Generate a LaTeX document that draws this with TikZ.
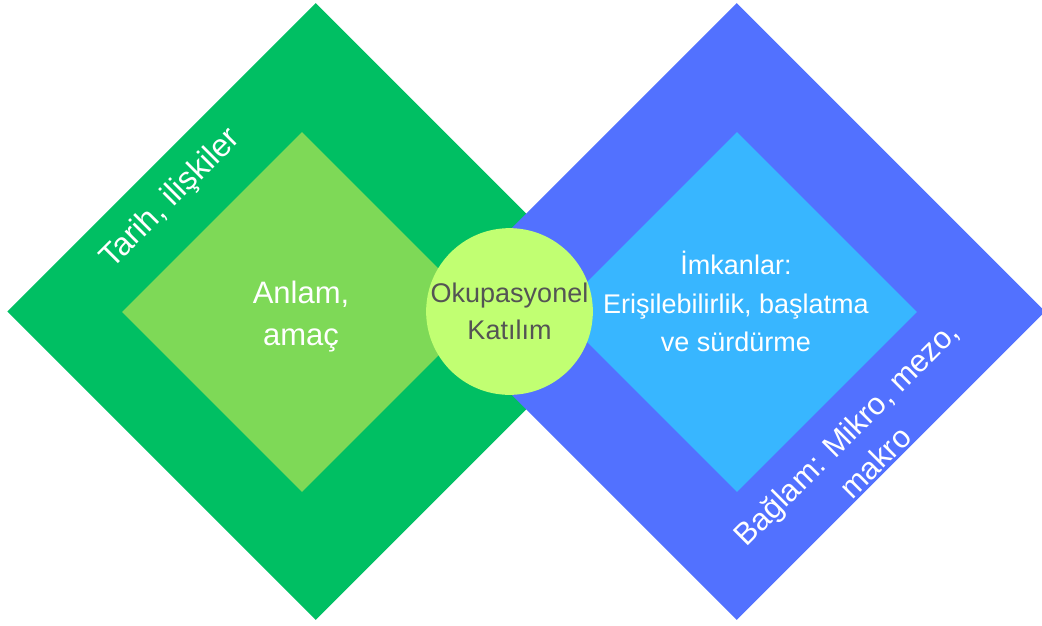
\documentclass[tikz,border=0pt]{standalone}
\usepackage{fontspec}
\setmainfont{Liberation Sans}
\usetikzlibrary{shapes.geometric}

\definecolor{dgreen}{HTML}{00BF63}
\definecolor{lgreen}{HTML}{7ED957}
\definecolor{dblue}{HTML}{5271FF}
\definecolor{lblue}{HTML}{38B6FF}
\definecolor{lime}{HTML}{C1FF72}
\definecolor{txtgray}{HTML}{545454}

\begin{document}
\begin{tikzpicture}[
            x = 1pt, y = -1pt, % pixel units, y grows downwards
            outer/.style = {diamond, inner sep=0pt, minimum width=617pt, minimum height=617pt}, % big squares
            inner/.style = {diamond, inner sep=0pt, minimum width=360pt, minimum height=360pt}, % small squares
            lbl/.style = {text=white, align=center, inner sep=0pt} % white texts
        ]

	\useasboundingbox (0,0) rectangle (1042,625);

	\node[outer, fill=dgreen] (tarih) at (315.7,311.5) {};
	\node[inner, fill=lgreen] (anlam) at (302,312) {};
	\node[outer, fill=dblue] (baglam) at (736.7,311.5) {};
	\node[inner, fill=lblue] (imkan) at (737,312) {};

	\node[circle, fill=lime, minimum size=164pt, inner sep=0pt, text=txtgray, align=center,
	      font=\fontsize{27}{36.5}\selectfont] (katilim) at (509.5,311.5) {Okupasyonel\\Katılım};

	\node[lbl, font=\fontsize{31}{42}\selectfont] (anlamtxt) at (301,317) {Anlam,\\amaç};
	\node[lbl, font=\fontsize{27}{38.5}\selectfont] (imkantxt) at (736,301.5) {İmkanlar:\\Erişilebilirlik, başlatma\\ve sürdürme};
	\node[lbl, rotate=45, font=\fontsize{32}{41}\selectfont] (tarihtxt) at (171,199) {Tarih, ilişkiler};
	\node[lbl, rotate=45, font=\fontsize{31}{41}\selectfont] (baglamtxt) at (860.5,447.5) {Bağlam: Mikro, mezo,\\makro};

\end{tikzpicture}
\end{document}
